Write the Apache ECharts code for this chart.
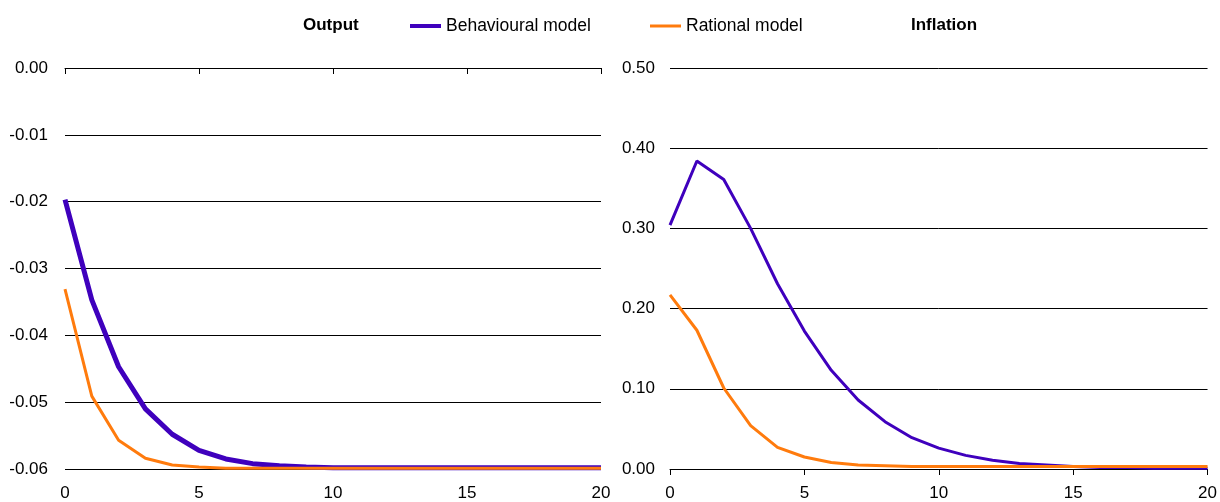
<!DOCTYPE html>
<html>
<head>
<meta charset="utf-8">
<script src="https://cdn.jsdelivr.net/npm/echarts@6/dist/echarts.min.js"></script>
<style>html,body{margin:0;padding:0;background:#fff}#c{width:1220px;height:502px}</style>
</head>
<body>
<div id="c"></div>
<script>
const periods = [0,1,2,3,4,5,6,7,8,9,10,11,12,13,14,15,16,17,18,19,20];
const outputBehavioural = [-0.0197,-0.0347,-0.0447,-0.0510,-0.0548,-0.0572,-0.0585,-0.0592,-0.0595,-0.0597,-0.0598,-0.0598,-0.0598,-0.0598,-0.0598,-0.0598,-0.0598,-0.0598,-0.0598,-0.0598,-0.0598];
const outputRational = [-0.0331,-0.0491,-0.0557,-0.0584,-0.0594,-0.0597,-0.0599,-0.0599,-0.0599,-0.0599,-0.0599,-0.0599,-0.0599,-0.0599,-0.0599,-0.0599,-0.0599,-0.0599,-0.0599,-0.0599,-0.0599];
const inflationBehavioural = [0.304,0.384,0.361,0.300,0.231,0.172,0.123,0.086,0.059,0.039,0.026,0.017,0.011,0.007,0.005,0.003,0.002,0.002,0.001,0.001,0.001];
const inflationRational = [0.217,0.173,0.101,0.054,0.027,0.015,0.008,0.005,0.004,0.003,0.003,0.003,0.003,0.003,0.003,0.003,0.003,0.003,0.003,0.003,0.003];
const outputTicks = {min:-0.06, max:0, interval:0.01};
const inflationTicks = {min:0, max:0.5, interval:0.1};
const names = ['Behavioural model','Rational model'];
const titles = ['Output','Inflation'];

const PURPLE = '#3f00bd', ORANGE = '#ff7b0d';
const FONT = 'Liberation Sans, Arial, sans-serif';
const pairs = (ys) => periods.map((p,i)=>[p, ys[i]]);

const chart = echarts.init(document.getElementById('c'), null, {renderer:'canvas'});
const labelStyle = {color:'#000', fontSize:17, fontFamily:FONT};
const legendText = {color:'#000', fontSize:17.5, fontFamily:FONT};
chart.setOption({
  animation:false,
  textStyle:{fontFamily:FONT},
  title:[
    {text:titles[0], left:298, top:12, textStyle:{fontSize:17, fontWeight:'bold', color:'#000', fontFamily:FONT}},
    {text:titles[1], left:906, top:12, textStyle:{fontSize:17, fontWeight:'bold', color:'#000', fontFamily:FONT}}
  ],
  legend:[
    {data:[names[0]], left:405, top:12, icon:'rect', itemWidth:31, itemHeight:4, itemGap:0, textStyle:legendText},
    {data:[names[1]], left:645, top:12, icon:'rect', itemWidth:31, itemHeight:3, itemGap:0, textStyle:legendText}
  ],
  grid:[
    {left:65, top:68, width:536, height:401},
    {left:670, top:68, width:542, height:401}
  ],
  xAxis:[
    {gridIndex:0, type:'value', min:0, max:20, interval:5, position:'bottom',
     axisLine:{show:false}, axisTick:{show:false}, splitLine:{show:false},
     axisLabel:{...labelStyle, margin:16}},
    {gridIndex:0, type:'value', min:0, max:20, interval:5, position:'top',
     axisLine:{show:true, lineStyle:{color:'#000', width:1}}, axisTick:{show:true, inside:true, length:6, lineStyle:{color:'#000'}},
     splitLine:{show:false}, axisLabel:{show:false}},
    {gridIndex:1, type:'value', min:0, max:20, interval:5, position:'bottom',
     axisLine:{show:true, lineStyle:{color:'#000', width:1}}, axisTick:{show:true, inside:false, length:6, lineStyle:{color:'#000'}},
     splitLine:{show:false}, axisLabel:{...labelStyle, margin:16}}
  ],
  yAxis:[
    {gridIndex:0, type:'value', min:outputTicks.min, max:outputTicks.max, interval:outputTicks.interval,
     axisLine:{show:false}, axisTick:{show:false},
     splitLine:{show:true, lineStyle:{color:'#000', width:1}},
     axisLabel:{...labelStyle, margin:17, formatter:v=>v.toFixed(2)}},
    {gridIndex:1, type:'value', min:inflationTicks.min, max:inflationTicks.max, interval:inflationTicks.interval,
     axisLine:{show:false}, axisTick:{show:false},
     splitLine:{show:true, lineStyle:{color:'#000', width:1}},
     axisLabel:{...labelStyle, margin:15, formatter:v=>v.toFixed(2)}}
  ],
  series:[
    {name:names[0], type:'line', xAxisIndex:0, yAxisIndex:0, data:pairs(outputBehavioural), showSymbol:false, color:PURPLE, lineStyle:{width:5, color:PURPLE}},
    {name:names[1], type:'line', xAxisIndex:0, yAxisIndex:0, data:pairs(outputRational), showSymbol:false, color:ORANGE, lineStyle:{width:3, color:ORANGE}},
    {name:names[0], type:'line', xAxisIndex:2, yAxisIndex:1, data:pairs(inflationBehavioural), showSymbol:false, color:PURPLE, lineStyle:{width:3, color:PURPLE}},
    {name:names[1], type:'line', xAxisIndex:2, yAxisIndex:1, data:pairs(inflationRational), showSymbol:false, color:ORANGE, lineStyle:{width:3, color:ORANGE}}
  ]
});
</script>
</body>
</html>
